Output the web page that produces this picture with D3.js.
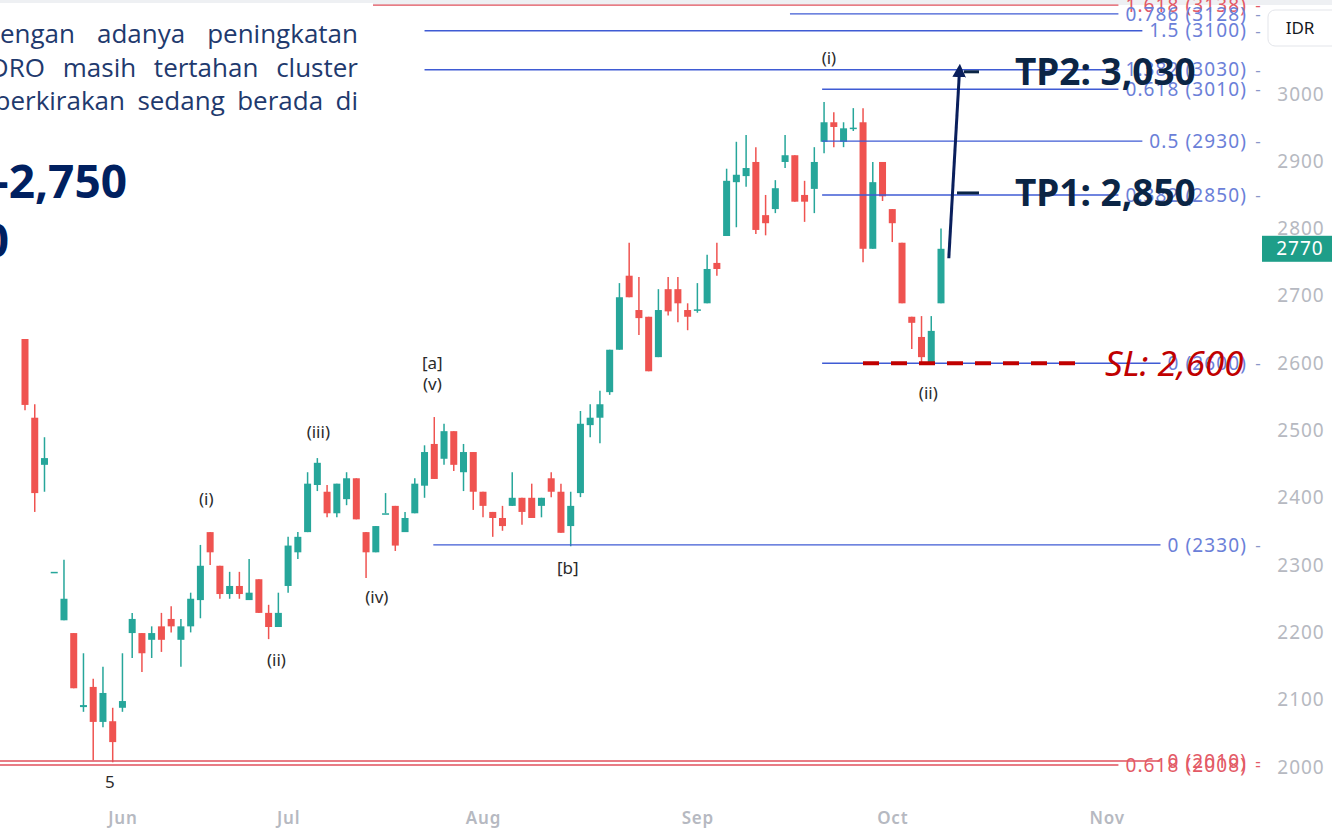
<!DOCTYPE html>
<html lang="id">
<head>
<meta charset="UTF-8">
<title>ADRO</title>
<style>
  html, body { margin: 0; padding: 0; background: #fff; }
  svg { display: block; font-family: "Noto Sans", sans-serif; }
</style>
</head>
<body>
<div id="chart"></div>
<script src="https://d3js.org/d3.v7.min.js"></script>
<script>
// ADRO harian, Jun - Okt
const width = 1332
const height = 828

const opens  = [2640,2519,2449,2290,2218,2199,2089,2119,2067,2068, 2088,2199,2199,2189,2209,2220,2189,2209,2248,2349,
                2299,2257,2269,2248,2279,2229,2208,2269,2319,2349, 2419,2409,2377,2398,2429,2349,2319,2377,2388,2349,
                2377,2418,2480,2458,2499,2438,2468,2409,2379,2370, 2388,2400,2400,2388,2429,2409,2358,2407,2508,2519,
                2557,2620,2730,2679,2669,2609,2710,2710,2679,2679, 2689,2749,2789,2869,2878,2899,2820,2829,2899,2909,
                2850,2859,2929,2958,2929,2949,2958,2770,2899,2829, 2779,2669,2639,2600,2689]
const highs  = [2660,2539,2490,2290,2308,2199,2169,2131,2149,2088, 2169,2229,2199,2209,2229,2239,2220,2259,2330,2349,
                2299,2290,2290,2309,2279,2241,2259,2342,2349,2438, 2459,2419,2421,2438,2429,2349,2358,2407,2388,2379,
                2429,2478,2520,2510,2499,2480,2468,2409,2379,2388, 2438,2400,2421,2400,2438,2421,2409,2529,2539,2559,
                2620,2719,2779,2728,2669,2710,2728,2728,2689,2719, 2761,2779,2889,2929,2939,2921,2850,2872,2939,2909,
                2871,2921,2988,2973,2958,2979,2979,2899,2899,2829, 2779,2669,2670,2670,2800]
const lows   = [2530,2379,2409,2290,2218,2117,2082,2010,2059,2007, 2082,2162,2141,2162,2171,2200,2149,2200,2221,2300,
                2250,2250,2250,2248,2229,2190,2208,2259,2309,2349, 2410,2371,2371,2389,2368,2281,2319,2377,2321,2349,
                2377,2400,2428,2449,2440,2410,2382,2371,2342,2351, 2388,2360,2370,2371,2401,2348,2328,2401,2490,2481,
                2553,2620,2698,2642,2588,2609,2671,2661,2649,2675, 2689,2730,2789,2802,2862,2792,2790,2823,2890,2840,
                2810,2823,2912,2921,2921,2945,2750,2770,2841,2780, 2689,2621,2600,2600,2689]
const closes = [2538,2407,2459,2290,2250,2117,2092,2067,2110,2037, 2098,2220,2169,2199,2189,2209,2209,2250,2299,2319,
                2257,2269,2257,2259,2229,2208,2229,2329,2342,2421, 2452,2377,2421,2429,2368,2319,2358,2377,2329,2370,
                2421,2468,2428,2499,2449,2468,2409,2388,2370,2358, 2400,2379,2370,2400,2409,2348,2388,2510,2519,2539,
                2620,2698,2698,2667,2588,2679,2677,2689,2669,2680, 2740,2740,2871,2880,2890,2798,2808,2860,2909,2840,
                2840,2899,2958,2951,2949,2950,2770,2869,2848,2808, 2689,2660,2609,2648,2770]

const monthLabels = ['Jun', 'Jul', 'Aug', 'Sep', 'Oct', 'Nov']
const monthBars = [10, 27, 47, 69, 89, 111]
const priceTicks = [2000, 2100, 2200, 2300, 2400, 2500, 2600, 2700, 2800, 2900, 3000]
const lastPrice = 2770

// level fibonacci
const fibText  = ['1.618 (3138)', '0.786 (3128)', '1.5 (3100)', '1.382 (3030)', '0.618 (3010)', '0.5 (2930)',
                  '0.382 (2850)', '0 (2600)', '0 (2330)', '0 (2010)', '0.618 (2008)']
const fibPrice = [3132, 3119, 3094, 3036, 3007, 2930, 2850, 2600, 2330, 2009, 2003]
const fibFrom  = [-3, 78.5, 41, 41, 81.8, 81.8, 81.8, 81.8, 41.9, -3, -3]
const fibRed   = [true, false, false, false, false, false, false, false, false, true, true]

// label gelombang elliott
const waveText  = ['5', '(i)', '(ii)', '(iii)', '(iv)', '[a]', '(v)', '[b]', '(i)', '(ii)']
const waveBar   = [8.7, 18.6, 25.8, 30.1, 36.1, 41.8, 41.8, 55.7, 82.5, 92.7]
const wavePrice = [1978, 2398, 2159, 2498, 2253, 2600, 2569, 2296, 3053, 2556]

const slPrice = 2600
const tpPrice = [2850, 3030]
const tpText = ['TP1: 2,850', 'TP2: 3,030']

const svg = d3.select('#chart').append('svg')
    .attr('width', width)
    .attr('height', height)

svg.append('rect').attr('width', width).attr('height', height).attr('fill', '#fff')
svg.append('rect').attr('width', width).attr('height', 5).attr('fill', '#eef0f3')

const x = d3.scaleLinear().domain([0, 94]).range([25, 941])
const y = d3.scaleLinear().domain([2000, 3000]).range([767, 94])

const up = '#26a69a'
const down = '#ef5350'
const bodyW = 7

const candles = opens.map((o, i) => ({ i, o, h: highs[i], l: lows[i], c: closes[i] }))
const colorOf = d => d.c >= d.o ? up : down

const cg = svg.append('g').attr('class', 'candles')
cg.selectAll('line')
    .data(candles)
    .join('line')
    .attr('x1', d => x(d.i))
    .attr('x2', d => x(d.i))
    .attr('y1', d => y(d.h))
    .attr('y2', d => y(d.l))
    .attr('stroke', colorOf)
    .attr('stroke-width', 1.5)
cg.selectAll('rect')
    .data(candles)
    .join('rect')
    .attr('x', d => x(d.i) - bodyW / 2)
    .attr('width', bodyW)
    .attr('y', d => y(Math.max(d.o, d.c)))
    .attr('height', d => Math.max(1.5, Math.abs(y(d.o) - y(d.c))))
    .attr('fill', colorOf)

// garis fibonacci + label
const labelRight = 1247
const fg = svg.append('g').attr('class', 'fib')
fibText.forEach((t, k) => {
    const col = fibRed[k] ? '#e0505c' : '#3f5bd4'
    const yy = y(fibPrice[k])
    const txt = fg.append('text')
        .attr('x', labelRight)
        .attr('y', yy)
        .attr('dy', '0.35em')
        .attr('text-anchor', 'end')
        .attr('font-size', 19)
        .attr('letter-spacing', 1.1)
        .attr('fill', fibRed[k] ? '#e35a66' : '#6b80d8')
        .text(t)
    const w = txt.node().getComputedTextLength()
    fg.insert('line', 'text')
        .attr('x1', Math.max(0, x(fibFrom[k])))
        .attr('x2', labelRight - w - 7)
        .attr('y1', yy)
        .attr('y2', yy)
        .attr('stroke', col)
        .attr('stroke-width', 1.4)
    fg.append('text')
        .attr('x', 1258)
        .attr('y', yy)
        .attr('dy', '0.35em')
        .attr('text-anchor', 'middle')
        .attr('font-size', 17)
        .attr('fill', fibRed[k] ? '#e35a66' : '#8a96c8')
        .text('-')
})

// label gelombang
svg.append('g')
    .selectAll('text')
    .data(waveText)
    .join('text')
    .attr('x', (_, k) => x(waveBar[k]))
    .attr('y', (_, k) => y(wavePrice[k]))
    .attr('dy', '0.35em')
    .attr('text-anchor', 'middle')
    .attr('font-size', 17)
    .attr('fill', '#2b2b2b')
    .text(d => d)

// sumbu harga
const yAxis = svg.append('g')
    .attr('transform', 'translate(1301,0)')
    .call(d3.axisRight(y).tickValues(priceTicks).tickSize(0).tickPadding(0).tickFormat(d3.format('d')))
yAxis.select('.domain').remove()
yAxis.selectAll('text')
    .attr('text-anchor', 'middle')
    .attr('font-size', 19)
    .attr('letter-spacing', 1)
    .attr('font-family', '"Noto Sans", sans-serif')
    .attr('fill', '#b6b9c1')

// sumbu bulan
const xAxis = svg.append('g')
    .attr('transform', 'translate(0,812)')
    .call(d3.axisBottom(x).tickValues(monthBars).tickSize(0).tickPadding(0)
        .tickFormat((_, k) => monthLabels[k]))
xAxis.select('.domain').remove()
xAxis.selectAll('text')
    .attr('font-size', 17)
    .attr('letter-spacing', 0.8)
    .attr('font-weight', 600)
    .attr('font-family', '"Noto Sans", sans-serif')
    .attr('fill', '#b6b9c1')

// harga terakhir
svg.append('rect')
    .attr('x', 1262).attr('y', y(lastPrice) - 13)
    .attr('width', 70).attr('height', 26)
    .attr('fill', '#1e9e89')
svg.append('text')
    .attr('x', 1300).attr('y', y(lastPrice))
    .attr('dy', '0.35em')
    .attr('text-anchor', 'middle')
    .attr('font-size', 19)
    .attr('letter-spacing', 1)
    .attr('fill', '#fff')
    .text(lastPrice)

// tombol IDR
svg.append('rect')
    .attr('x', 1268).attr('y', 10).attr('width', 74).attr('height', 36).attr('rx', 7)
    .attr('fill', '#fff').attr('stroke', '#e3e5ea')
svg.append('text')
    .attr('x', 1300).attr('y', 28).attr('dy', '0.35em')
    .attr('text-anchor', 'middle').attr('font-size', 17).attr('fill', '#131722')
    .text('IDR')

// stop loss
svg.append('line')
    .attr('x1', 863).attr('x2', 1076)
    .attr('y1', y(slPrice)).attr('y2', y(slPrice))
    .attr('stroke', '#c00000').attr('stroke-width', 4)
    .attr('stroke-dasharray', '16 12')
svg.append('text')
    .attr('x', 1105).attr('y', y(slPrice)).attr('dy', '0.36em')
    .attr('font-size', 35).attr('font-style', 'italic')
    .attr('fill', '#c00000')
    .text('SL: 2,600')

// target
tpPrice.forEach((p, k) => {
    svg.append('line')
        .attr('x1', k ? 964 : 957).attr('x2', 979)
        .attr('y1', y(p) - 2).attr('y2', y(p) - 2)
        .attr('stroke', '#0b2545').attr('stroke-width', 3)
    svg.append('text')
        .attr('x', 1015).attr('y', y(p) - 2).attr('dy', '0.36em')
        .attr('font-size', 37).attr('font-weight', 700)
        .attr('fill', '#0b2545')
        .text(tpText[k])
})

// panah
const defs = svg.append('defs')
defs.append('marker')
    .attr('id', 'arrow')
    .attr('viewBox', '0 0 10 10')
    .attr('refX', 5).attr('refY', 5)
    .attr('markerWidth', 4.5).attr('markerHeight', 4.5)
    .attr('orient', 'auto')
    .append('path').attr('d', 'M0,0 L10,5 L0,10 z').attr('fill', '#0a1f5c')
svg.append('line')
    .attr('x1', x(94.8)).attr('y1', y(2756))
    .attr('x2', x(95.9)).attr('y2', y(3035))
    .attr('stroke', '#0a1f5c').attr('stroke-width', 3)
    .attr('marker-end', 'url(#arrow)')

// kotak teks
svg.append('rect')
    .attr('x', 0).attr('y', 3).attr('width', 373).attr('height', 336)
    .attr('fill', '#fff')

const para = [
    { words: ['dengan', 'adanya', 'peningkatan'], firstEnd: 75, base: 43 },
    { words: ['ADRO', 'masih', 'tertahan', 'cluster'], firstEnd: 45, base: 77 },
    { words: ['diperkirakan', 'sedang', 'berada', 'di'], firstEnd: 125, base: 110 }
]
const pg = svg.append('g')
    .attr('font-family', '"Open Sans", "Noto Sans", sans-serif')
    .attr('font-size', 26)
    .attr('fill', '#1f3a6e')
para.forEach(line => {
    const nodes = line.words.map(w => pg.append('text').attr('y', line.base).text(w))
    const widths = nodes.map(n => n.node().getComputedTextLength())
    const rest = d3.sum(widths.slice(1))
    const gap = (358 - line.firstEnd - rest) / (nodes.length - 1)
    let cx = line.firstEnd
    nodes[0].attr('x', line.firstEnd - widths[0])
    nodes.slice(1).forEach((n, k) => {
        cx += gap
        n.attr('x', cx)
        cx += widths[k + 1]
    })
})

svg.append('text')
    .attr('x', 127).attr('y', 198)
    .attr('text-anchor', 'end')
    .attr('font-family', '"Open Sans", "Noto Sans", sans-serif')
    .attr('font-size', 46).attr('font-weight', 700)
    .attr('fill', '#002060')
    .text('2,700-2,750')
svg.append('text')
    .attr('x', 9).attr('y', 257)
    .attr('text-anchor', 'end')
    .attr('font-family', '"Open Sans", "Noto Sans", sans-serif')
    .attr('font-size', 46).attr('font-weight', 700)
    .attr('fill', '#002060')
    .text('2,850-3,030')
</script>
</body>
</html>
